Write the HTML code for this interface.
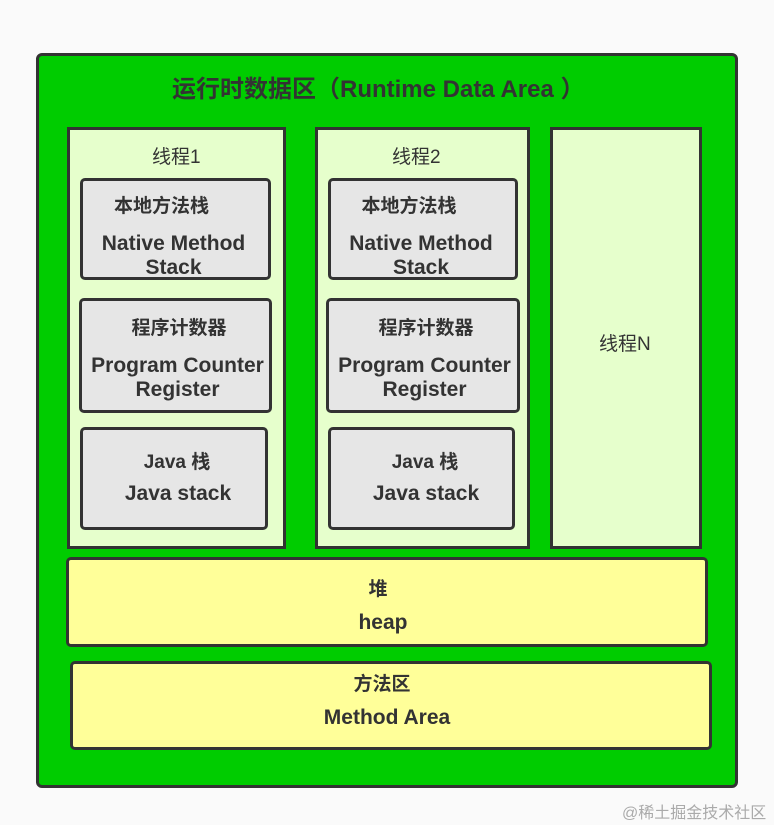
<!DOCTYPE html><html><head><meta charset="utf-8"><style>
body{margin:0;width:774px;height:825px;background:#fafafa;position:relative;font-family:"Liberation Sans","Noto Sans CJK SC",sans-serif;color:#333}
.b{position:absolute;box-sizing:border-box;border:3px solid #333}
.t{position:absolute;text-align:center;white-space:nowrap}
.g{background:#e6e6e6;border-radius:5px}
.th{background:#e6ffcc}
.y{background:#ffff99;border-radius:5px}
.bd{font-weight:bold;font-size:21px;line-height:24px}
.c{font-size:19px}
</style></head><body>
<div class="b" style="left:36px;top:53px;width:702px;height:735px;background:#00cc00;border-radius:6px"></div>
<div class="t bd" style="left:172px;top:78px;font-size:24px">运行时数据区（Runtime Data Area ）</div>
<div class="b th" style="left:67px;top:127px;width:219px;height:422px"></div>
<div class="b th" style="left:315px;top:127px;width:215px;height:422px"></div>
<div class="b th" style="left:550px;top:127px;width:152px;height:422px"></div>
<div class="t" style="left:152px;top:142px;font-size:19px">线程1</div>
<div class="t" style="left:392px;top:142px;font-size:19px">线程2</div>
<div class="t" style="left:599px;top:329px;font-size:19px">线程N</div>

<div class="b g" style="left:80px;top:178px;width:191px;height:102px"></div>
<div class="t bd c" style="left:80px;top:195px;width:191px;padding-right:28px;box-sizing:border-box">本地方法栈</div>
<div class="t bd" style="left:80px;top:232px;width:187px">Native Method<br>Stack</div>
<div class="b g" style="left:79px;top:298px;width:193px;height:115px"></div>
<div class="t bd c" style="left:79px;top:317px;width:200px">程序计数器</div>
<div class="t bd" style="left:79px;top:354px;width:197px">Program Counter<br>Register</div>
<div class="b g" style="left:80px;top:427px;width:188px;height:103px"></div>
<div class="t bd c" style="left:80px;top:451px;width:194px">Java 栈</div>
<div class="t bd" style="left:80px;top:482px;width:196px">Java stack</div>

<div class="b g" style="left:328px;top:178px;width:190px;height:102px"></div>
<div class="t bd c" style="left:328px;top:195px;width:190px;padding-right:28px;box-sizing:border-box">本地方法栈</div>
<div class="t bd" style="left:328px;top:232px;width:186px">Native Method<br>Stack</div>
<div class="b g" style="left:326px;top:298px;width:194px;height:115px"></div>
<div class="t bd c" style="left:326px;top:317px;width:200px">程序计数器</div>
<div class="t bd" style="left:326px;top:354px;width:197px">Program Counter<br>Register</div>
<div class="b g" style="left:328px;top:427px;width:187px;height:103px"></div>
<div class="t bd c" style="left:328px;top:451px;width:194px">Java 栈</div>
<div class="t bd" style="left:328px;top:482px;width:196px">Java stack</div>

<div class="b y" style="left:66px;top:557px;width:642px;height:90px"></div>
<div class="t bd c" style="left:66px;top:578px;width:624px">堆</div>
<div class="t bd" style="left:66px;top:611px;width:634px">heap</div>
<div class="b y" style="left:70px;top:661px;width:642px;height:89px"></div>
<div class="t bd c" style="left:70px;top:673px;width:624px">方法区</div>
<div class="t bd" style="left:70px;top:706px;width:634px">Method Area</div>
<div class="t" style="left:622px;top:799px;font-size:16px;color:#aaa">@稀土掘金技术社区</div>
</body></html>
